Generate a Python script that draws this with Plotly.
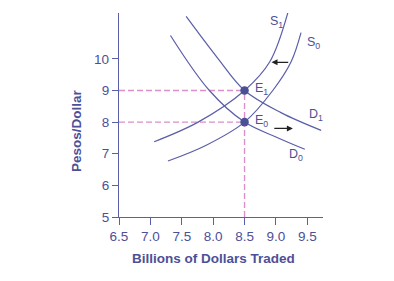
import plotly.graph_objects as go

# ---- data ----
s0_x = [7.28, 7.89, 8.5, 8.95, 9.24, 9.40]
s0_y = [6.77, 7.27, 8.0, 9.0, 9.9, 10.83]
s1_x = [7.06, 7.76, 8.5, 8.90, 9.19]
s1_y = [7.38, 8.0, 9.0, 9.9, 11.46]
d0_x = [7.32, 7.94, 8.5, 9.0, 9.46]
d0_y = [10.74, 9.0, 8.0, 7.53, 7.14]
d1_x = [7.57, 8.08, 8.5, 9.08, 9.72]
d1_y = [11.34, 10.0, 9.0, 8.3, 7.74]
eq_x = [8.5, 8.5]
eq_y = [8.0, 9.0]
eq_names = ["E<sub>0</sub>", "E<sub>1</sub>"]

x_ticks = [6.5, 7.0, 7.5, 8.0, 8.5, 9.0, 9.5]
x_ticktext = ["6.5", "7.0", "7.5", "8.0", "8.5", "9.0", "9.5"]
y_ticks = [5, 6, 7, 8, 9, 10]

curve_labels = ["S<sub>1</sub>", "S<sub>0</sub>", "D<sub>1</sub>", "D<sub>0</sub>"]
curve_label_x = [8.87, 9.47, 9.50, 9.17]
curve_label_y = [11.15, 10.49, 8.22, 6.96]

# shift arrows: (tail_x, head_x, y)
arrows = [(9.22, 8.93, 9.89), (8.95, 9.27, 7.80)]

X_MIN, X_MAX = 6.5, 9.75
Y_MIN, Y_MAX = 5, 11.45

CURVE = "#5b5ea8"
TEXT = "#4c5098"
PINK = "#dc8fc9"
FONT = "Liberation Sans, Arial, sans-serif"

fig = go.Figure()

# dashed guides
for yv in eq_y:
    fig.add_trace(go.Scatter(x=[X_MIN, eq_x[0]], y=[yv, yv], mode="lines",
                             line=dict(color=PINK, width=1.4, dash="6px,3px"),
                             hoverinfo="skip", showlegend=False))
fig.add_trace(go.Scatter(x=[eq_x[0], eq_x[0]], y=[Y_MIN, max(eq_y)], mode="lines",
                         line=dict(color=PINK, width=1.4, dash="6px,3px"),
                         hoverinfo="skip", showlegend=False))

for cx, cy in [(s0_x, s0_y), (s1_x, s1_y), (d0_x, d0_y), (d1_x, d1_y)]:
    fig.add_trace(go.Scatter(x=cx, y=cy, mode="lines",
                             line=dict(color=CURVE, width=1.2, shape="spline", smoothing=1.0),
                             hoverinfo="skip", showlegend=False, cliponaxis=False))

fig.add_trace(go.Scatter(x=eq_x, y=eq_y, mode="markers",
                         marker=dict(color="#4a5096", size=8.5),
                         showlegend=False, cliponaxis=False))

annotations = []
for name, yv in zip(eq_names, eq_y):
    annotations.append(dict(x=8.63, y=yv + 0.05, text=name, showarrow=False,
                            xanchor="left", yanchor="middle",
                            font=dict(family=FONT, size=12.5, color=TEXT)))
for t, lx, ly in zip(curve_labels, curve_label_x, curve_label_y):
    annotations.append(dict(x=lx, y=ly, text=t, showarrow=False,
                            xanchor="left", yanchor="middle",
                            font=dict(family=FONT, size=12.5, color=TEXT)))
for tx, hx, yv in arrows:
    annotations.append(dict(x=hx, y=yv, ax=tx, ay=yv, xref="x", yref="y",
                            axref="x", ayref="y", text="", showarrow=True,
                            arrowhead=2, arrowsize=1, arrowwidth=1.2,
                            arrowcolor="#222222"))

# axis titles
annotations.append(dict(x=0.461, y=-0.201, xref="paper", yref="paper",
                        text="<b>Billions of Dollars Traded</b>",
                        xanchor="center", yanchor="middle", showarrow=False,
                        font=dict(family=FONT, size=13.5, color=TEXT)))
annotations.append(dict(x=-0.211, y=0.426, xref="paper", yref="paper",
                        text="<b>Pesos/Dollar</b>", textangle=-90,
                        xanchor="center", yanchor="middle", showarrow=False,
                        font=dict(family=FONT, size=13.5, color=TEXT)))

fig.update_layout(
    width=394, height=281,
    margin=dict(l=119, r=71, t=13, b=64),
    paper_bgcolor="white", plot_bgcolor="white",
    font=dict(family=FONT, size=13, color=TEXT),
    xaxis=dict(range=[X_MIN, X_MAX], tickvals=x_ticks, ticktext=x_ticktext,
               showline=True, linecolor=CURVE, linewidth=1.3, showgrid=False, zeroline=False,
               ticks="outside", ticklen=7, tickcolor=CURVE, tickwidth=1.2,
               tickfont=dict(family=FONT, size=13.5, color=TEXT)),
    yaxis=dict(range=[Y_MIN, Y_MAX], tickvals=y_ticks,
               showline=True, linecolor=CURVE, linewidth=1.3, showgrid=False, zeroline=False,
               ticks="outside", ticklen=6, tickcolor=CURVE, tickwidth=1.2,
               tickfont=dict(family=FONT, size=13.5, color=TEXT)),
    annotations=annotations,
)

fig.write_html("out.html")
